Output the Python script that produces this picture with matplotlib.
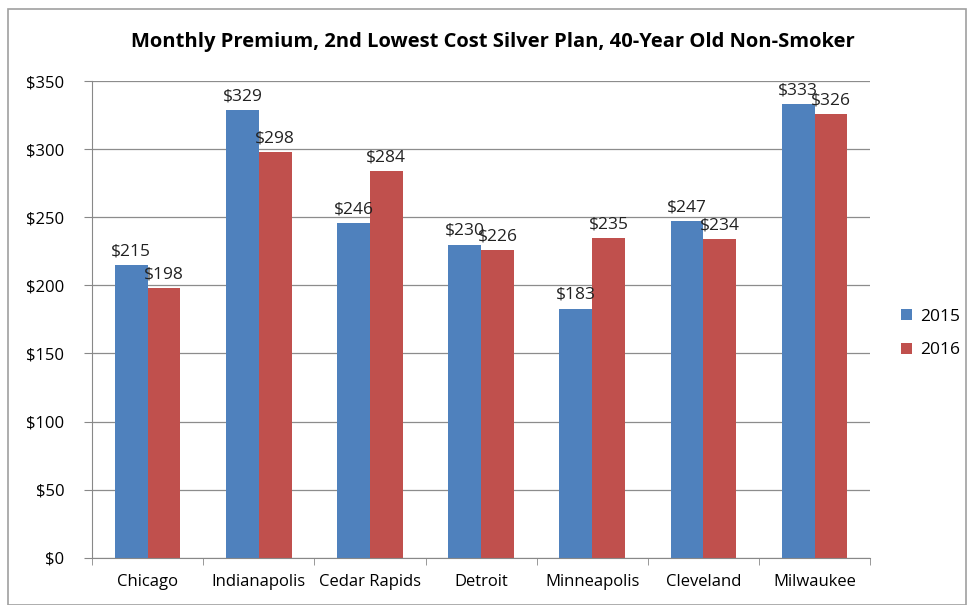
import matplotlib
matplotlib.use("Agg")
import matplotlib.pyplot as plt
import numpy as np
from matplotlib.patches import Rectangle

categories = ["Chicago", "Indianapolis", "Cedar Rapids", "Detroit", "Minneapolis", "Cleveland", "Milwaukee"]
vals_2015 = [215, 329, 246, 230, 183, 247, 333]
vals_2016 = [198, 298, 284, 226, 235, 234, 326]
series_names = ["2015", "2016"]
yticks = [0, 50, 100, 150, 200, 250, 300, 350]

plt.rcParams['font.family'] = ['Open Sans', 'DejaVu Sans']

fig = plt.figure(figsize=(9.68, 6.05), dpi=100)
fig.patches.append(Rectangle((0.008, 0.0), 0.99, 0.985, transform=fig.transFigure,
                             fill=False, edgecolor='#a0a0a0', linewidth=1.2))
ax = fig.add_axes([0.095, 0.078, 0.804, 0.788])

x = np.arange(len(categories))
w = 0.295
c1, c2 = '#4F81BD', '#C0504D'
b1 = ax.bar(x - w/2, vals_2015, w, color=c1, label=series_names[0])
b2 = ax.bar(x + w/2, vals_2016, w, color=c2, label=series_names[1])

for bars, vals in ((b1, vals_2015), (b2, vals_2016)):
    for r, v in zip(bars, vals):
        ax.annotate(f"${v}", (r.get_x() + r.get_width()/2, v), xytext=(0, 4),
                    textcoords='offset points', ha='center', va='bottom',
                    fontsize=12.5, color='#222222')

ax.set_xlim(-0.5, len(categories) - 0.5)
ax.set_ylim(0, 350)
ax.set_yticks(yticks)
ax.set_yticklabels([f"${t}" for t in yticks], fontsize=12)
ax.set_xticks(x)
ax.set_xticklabels(categories, fontsize=12)
ax.set_xticks(np.arange(len(categories) + 1) - 0.5, minor=True)
ax.tick_params(axis='x', which='major', length=0, pad=12)
ax.tick_params(axis='x', which='minor', length=5, color='#888888')
ax.tick_params(axis='y', length=6, color='#888888', pad=14)
ax.grid(axis='y', color='#8c8c8c', linewidth=0.9)
ax.set_axisbelow(True)
for s in ['top', 'right']:
    ax.spines[s].set_visible(False)
for s in ['left', 'bottom']:
    ax.spines[s].set_color('#888888')

fig.text(0.509, 0.93, "Monthly Premium, 2nd Lowest Cost Silver Plan, 40-Year Old Non-Smoker",
         ha='center', va='center', fontsize=14.5, fontweight='bold')

ax.legend(loc='center left', bbox_to_anchor=(1.02, 0.47), frameon=False, fontsize=12.5,
          handlelength=0.6, handleheight=0.6, labelspacing=1.0, handletextpad=0.5)

fig.savefig("out.png", dpi=100)
